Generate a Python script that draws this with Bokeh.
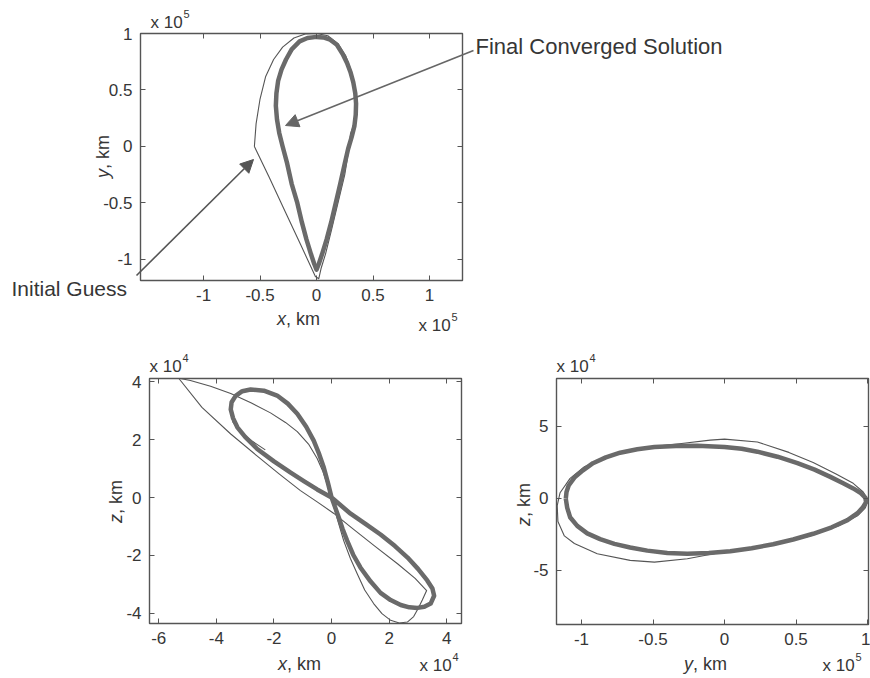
import math
from bokeh.plotting import figure
from bokeh.models import Range1d, FixedTicker, LinearAxis, Label, Arrow, NormalHead
from bokeh.layouts import column, row
from bokeh.embed import file_html
from bokeh.resources import INLINE

# ---------------- data ----------------
# top panel: x-y plane, units of 1e5 km
conv_xy_x = [0.00, 0.06, 0.12, 0.18, 0.23, 0.27, 0.30, 0.325, 0.343, 0.35, 0.347, 0.335, 0.31, 0.28, 0.25, 0.21,
             0.17, 0.13, 0.09, 0.05, 0.02, 0.00,
             -0.02, -0.05, -0.09, -0.13, -0.17, -0.22, -0.26, -0.30, -0.33, -0.35, -0.36, -0.355, -0.34, -0.31,
             -0.27, -0.22, -0.15, -0.08, 0.00]
conv_xy_y = [0.97, 0.965, 0.945, 0.90, 0.82, 0.74, 0.66, 0.57, 0.47, 0.38, 0.28, 0.18, 0.08, -0.02, -0.15, -0.33,
             -0.50, -0.67, -0.82, -0.95, -1.04, -1.09,
             -1.04, -0.95, -0.82, -0.67, -0.50, -0.33, -0.15, 0.00, 0.12, 0.24, 0.36, 0.47, 0.58, 0.68,
             0.77, 0.86, 0.93, 0.96, 0.97]
guess_xy_x = [-0.55, -0.535, -0.50, -0.45, -0.38, -0.30, -0.20, -0.10, 0.00, 0.10, 0.19, 0.26, 0.31, 0.345, 0.355,
              0.34, 0.30, 0.29, 0.25, 0.19, 0.13, 0.08, 0.04, 0.02, -0.01, -0.14, -0.28, -0.42, -0.55]
guess_xy_y = [0.00, 0.20, 0.42, 0.62, 0.77, 0.88, 0.96, 0.995, 1.00, 0.98, 0.91, 0.80, 0.66, 0.50, 0.35,
              0.22, 0.11, 0.00, -0.25, -0.50, -0.75, -0.95, -1.08, -1.17, -1.15, -0.87, -0.57, -0.27, 0.00]

# bottom-left panel: x-z plane, units of 1e4 km
conv_xz_x = [0.00, 0.66, 1.20, 1.70, 2.20, 2.63, 3.00, 3.32, 3.50, 3.56, 3.44, 3.22, 2.98, 2.70, 2.40, 2.05, 1.70,
             1.35, 1.00, 0.75, 0.54, 0.38, 0.25, 0.12, 0.00, -0.12, -0.27, -0.43, -0.62, -0.88, -1.19, -1.52,
             -1.89, -2.35, -2.81, -3.10, -3.33, -3.47, -3.50, -3.42, -3.27, -3.00, -2.58, -2.00, -1.42, -0.95,
             -0.50, 0.00]
conv_xz_z = [0.00, -0.56, -0.93, -1.28, -1.68, -2.07, -2.47, -2.87, -3.15, -3.40, -3.67, -3.78, -3.82, -3.80, -3.72,
             -3.55, -3.30, -2.90, -2.42, -1.98, -1.49, -1.08, -0.69, -0.33, 0.00, 0.48, 1.04, 1.50, 1.97, 2.45,
             2.90, 3.25, 3.53, 3.70, 3.74, 3.68, 3.52, 3.30, 3.05, 2.75, 2.43, 2.10, 1.68, 1.25, 0.86, 0.56,
             0.28, 0.00]
guess_xz_x = [-5.60, -5.30, -4.90, -4.20, -3.50, -2.80, -2.12, -1.60, -1.19, -0.80, -0.50, -0.30, -0.15, 0.00, 0.20,
              0.42, 0.65, 0.89, 1.15, 1.46, 1.75, 2.05, 2.35, 2.63, 2.85, 3.00, 3.15, 3.30,
              2.90, 2.30, 1.50, 0.70, 0.08, -0.50, -1.08, -1.80, -2.60, -3.50, -4.50, -5.30, -5.50]
guess_xz_z = [4.22, 4.13, 4.05, 3.85, 3.60, 3.28, 2.93, 2.60, 2.28, 1.85, 1.35, 0.90, 0.45, -0.05, -0.75,
              -1.49, -2.10, -2.64, -3.20, -3.67, -4.02, -4.25, -4.34, -4.31, -4.12, -3.85, -3.55, -3.22,
              -2.80, -2.30, -1.68, -1.05, -0.55, -0.15, 0.24, 0.80, 1.45, 2.20, 3.12, 4.12, 4.40]
guess2_xz_x = [-3.05, -3.40, -3.52, -3.42, -3.15, -2.75, -2.30]
guess2_xz_z = [3.68, 3.40, 3.00, 2.60, 2.25, 1.95, 1.65]

# bottom-right panel: y-z plane, y in 1e5 km, z in 1e4 km
conv_yz_y = [-1.11, -1.105, -1.09, -1.05, -0.99, -0.92, -0.83, -0.73, -0.61, -0.49, -0.34, -0.19, 0.00, 0.12,
             0.23, 0.37, 0.51, 0.63, 0.74, 0.83, 0.90, 0.95, 0.985, 0.99, 0.965, 0.93, 0.86, 0.75, 0.62, 0.48,
             0.34, 0.19, 0.04, -0.11, -0.26, -0.40, -0.54, -0.66, -0.77, -0.87, -0.96, -1.03, -1.08, -1.10,
             -1.11]
conv_yz_z = [-0.02, 0.45, 0.90, 1.45, 1.95, 2.45, 2.85, 3.18, 3.42, 3.57, 3.65, 3.66, 3.58, 3.45,
             3.25, 2.90, 2.45, 2.00, 1.50, 1.05, 0.70, 0.40, 0.05, -0.25, -0.65, -1.02, -1.50, -2.00, -2.45, -2.85,
             -3.18, -3.45, -3.66, -3.78, -3.84, -3.78, -3.62, -3.40, -3.15, -2.82, -2.42, -1.90, -1.30, -0.65,
             -0.02]
guess_yz_y = [-0.50, -0.30, -0.10, 0.00, 0.23, 0.45, 0.62, 0.78, 0.90, 0.97, 1.005, 0.985, 0.93, 0.80, 0.60, 0.35,
              0.10, -0.075, -0.26, -0.49, -0.66, -0.89, -1.05, -1.12, -1.165, -1.17, -1.15, -1.08, -0.98, -0.82,
              -0.65, -0.50]
guess_yz_z = [3.60, 3.82, 4.05, 4.12, 3.92, 3.20, 2.50, 1.70, 1.05, 0.45, -0.10, -0.65, -1.20, -1.90, -2.60, -3.22,
              -3.60, -3.84, -4.19, -4.42, -4.30, -3.84, -3.13, -2.60, -1.60, -0.50, 0.40, 1.40, 2.20, 2.90,
              3.35, 3.60]

ticks_top = [-1, -0.5, 0, 0.5, 1]
ticks_xz_x = [-6, -4, -2, 0, 2, 4]
ticks_xz_z = [-4, -2, 0, 2, 4]
ticks_yz_y = [-1, -0.5, 0, 0.5, 1]
ticks_yz_z = [-5, 0, 5]

# ---------------- styling ----------------
FONT = "Liberation Sans"
TXT = "#363636"
FRAME = "#555555"
THICK = "#6a6a6a"
THIN = "#555555"
TICK_FS = "17px"
LAB_FS = "18px"
W, H = 870, 678


def make_fig(page_x, page_y, fig_w, fig_h, fl, ft, fw, fh, xr, yr, xt, yt):
    p = figure(frame_width=fw, frame_height=fh,
               x_range=Range1d(*xr), y_range=Range1d(*yr),
               output_backend="svg", toolbar_location=None,
               min_border_left=fl - page_x, min_border_top=ft - page_y,
               min_border_right=fig_w - (fl - page_x) - fw,
               min_border_bottom=fig_h - (ft - page_y) - fh)
    p.grid.visible = False
    p.background_fill_color = "white"
    p.border_fill_color = "white"
    p.outline_line_color = FRAME
    p.outline_line_width = 1.4
    for ax, tk in ((p.xaxis[0], xt), (p.yaxis[0], yt)):
        ax.ticker = FixedTicker(ticks=tk)
        ax.major_label_overrides = {t: "%g" % t for t in tk}
        ax.major_tick_in = 5
        ax.major_tick_out = 0
        ax.minor_tick_line_color = None
        ax.axis_line_color = None
        ax.major_tick_line_color = FRAME
        ax.major_label_text_font = FONT
        ax.major_label_text_font_size = TICK_FS
        ax.major_label_text_color = TXT
        ax.major_label_standoff = 8
    for side, tk in (("above", xt), ("right", yt)):
        ax = LinearAxis(ticker=FixedTicker(ticks=tk), major_tick_in=5, major_tick_out=0,
                        minor_tick_line_color=None, axis_line_color=None,
                        major_tick_line_color=FRAME, major_label_text_font_size="0px",
                        major_label_standoff=0)
        ax.major_label_overrides = {t: "" for t in tk}
        p.add_layout(ax, side)
    return p


# ---------------- panels ----------------
top = make_fig(0, 0, 870, 340, 140, 33, 322, 247,
               (-1.558, 1.292), (-1.186, 1.0), ticks_top, ticks_top)
top.line(guess_xy_x, guess_xy_y, line_color=THIN, line_width=1.1, line_join="round")
top.line(conv_xy_x, conv_xy_y, line_color=THICK, line_width=4.5, line_join="round")

bl = make_fig(0, 340, 470, 338, 149, 378, 312, 245,
              (-6.32, 4.51), (-4.36, 4.12), ticks_xz_x, ticks_xz_z)
bl.line(guess_xz_x, guess_xz_z, line_color=THIN, line_width=1.1, line_join="round")
bl.line(guess2_xz_x, guess2_xz_z, line_color=THIN, line_width=1.1, line_join="round")
bl.line(conv_xz_x, conv_xz_z, line_color=THICK, line_width=4.5, line_join="round")

br = make_fig(470, 340, 400, 338, 556, 378, 312, 246,
              (-1.175, 1.007), (-8.75, 8.33), ticks_yz_y, ticks_yz_z)
br.line(guess_yz_y, guess_yz_z, line_color=THIN, line_width=1.1, line_join="round")
br.line(conv_yz_y, conv_yz_z, line_color=THICK, line_width=4.5, line_join="round")

# ---------------- transparent overlay for the texts and arrows ----------------
ov = figure(frame_width=W, frame_height=H, x_range=Range1d(0, W), y_range=Range1d(H, 0),
            x_axis_type=None, y_axis_type=None, output_backend="svg", toolbar_location=None,
            min_border=0)
ov.grid.visible = False
ov.outline_line_color = None
ov.background_fill_alpha = 0
ov.border_fill_alpha = 0
ov.margin = (-H, 0, 0, 0)


def text(px, py, s, size, align="left", style="normal", angle=0.0, baseline="middle"):
    ov.add_layout(Label(x=px, y=py, text=s, text_font=FONT, text_font_size=size, text_color=TXT,
                        text_align=align, text_baseline=baseline, text_font_style=style, angle=angle))


def xlabel(cx, cy, var):
    text(cx - 12.5, cy, var, LAB_FS, align="right", style="italic")
    text(cx - 12.5, cy, ", km", LAB_FS, align="left")


def ylabel(cx, cy, var):
    text(cx, cy + 12.5, var, LAB_FS, align="right", style="italic", angle=math.pi / 2)
    text(cx, cy + 12.5, ", km", LAB_FS, align="left", angle=math.pi / 2)


def mult(px, py, exp):
    text(px, py, "x 10", "17px", align="left")
    text(px + 33, py - 9, exp, "11px", align="left")


xlabel(298, 318, "x")
ylabel(102, 156, "y")
mult(150, 22, "5")
mult(418, 325, "5")

xlabel(299, 663, "x")
ylabel(115, 501, "z")
mult(149, 366, "4")
mult(419, 665, "4")

xlabel(705, 663, "y")
ylabel(523, 504, "z")
mult(556, 366, "4")
mult(822, 665, "5")

ov.add_layout(Arrow(end=NormalHead(size=13, fill_color="#666666", line_color="#666666"),
                    x_start=473, y_start=50, x_end=285, y_end=125,
                    line_color="#666666", line_width=1.6))
ov.add_layout(Arrow(end=NormalHead(size=13, fill_color="#555555", line_color="#555555"),
                    x_start=136, y_start=275, x_end=253, y_end=159,
                    line_color="#555555", line_width=1.6))
text(475, 46, "Final Converged Solution", "22px")
text(11, 288, "Initial Guess", "21px")

panels = column(top, row(bl, br, spacing=0), spacing=0)
layout = column(panels, ov, spacing=0)
open("out.html", "w").write(file_html(layout, INLINE))
